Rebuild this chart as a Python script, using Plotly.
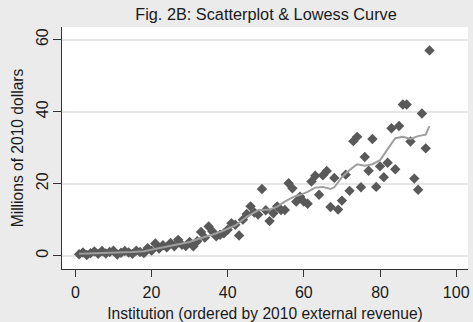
import plotly.graph_objects as go

# Scatter data: institution rank and revenue (millions of 2010 dollars)
institution = list(range(1, 94))
revenue = [
    0.4, 0.9, 0.2, 0.7, 1.2, 0.5, 1.3, 0.6, 1.0, 1.4,
    0.3, 0.8, 1.3, 0.9, 0.5, 1.4, 1.0, 0.7, 2.1, 1.4,
    3.4, 2.0, 2.9, 2.3, 3.5, 2.6, 4.4, 3.0, 2.7, 3.8,
    2.6, 4.0, 6.6, 5.0, 8.1, 6.7, 5.4, 5.8, 6.2, 7.2,
    9.0, 8.6, 5.6, 10.0, 11.6, 13.7, 12.0, 11.4, 18.5, 12.6,
    9.6, 11.8, 13.7, 12.7, 12.7, 20.1, 18.7, 15.0, 16.4, 15.0,
    14.4, 20.6, 22.2, 16.9, 22.3, 23.5, 13.5, 21.6, 12.8, 15.3,
    22.5, 18.0, 31.8, 33.0, 19.0, 27.4, 23.6, 32.4, 19.1, 24.8,
    21.8, 25.8, 35.4, 24.0, 36.0, 42.0, 42.0, 31.7, 21.4, 18.3,
    39.5, 29.8, 57.0,
]

# Lowess curve
lowess_x = [1, 5, 10, 15, 18, 21, 25, 28, 30, 33, 36, 39, 42, 45, 48, 51, 53, 55,
            57, 59, 61, 63, 65, 67, 68, 70, 72, 74, 76, 78, 80, 82, 84, 86, 88, 90,
            92, 93]
lowess_y = [0.5, 0.6, 0.8, 1.0, 1.2, 1.8, 2.6, 3.3, 3.8, 4.9, 5.8, 7.0, 8.4, 10.8,
            12.6, 12.8, 13.6, 15.0, 16.2, 16.9, 17.7, 18.9, 19.1, 18.5, 19.0, 21.8,
            23.8, 25.4, 25.0, 25.4, 26.5, 29.6, 32.6, 33.0, 32.4, 33.2, 33.6, 36.0]

x_ticks = [0, 20, 40, 60, 80, 100]
y_ticks = [0, 20, 40, 60]

FONT = "Liberation Sans, Arial, sans-serif"

fig = go.Figure()
fig.add_trace(go.Scatter(
    x=institution, y=revenue, mode="markers",
    marker=dict(symbol="diamond", size=8, color="#595959", line=dict(width=0)),
    showlegend=False,
))
fig.add_trace(go.Scatter(
    x=lowess_x, y=lowess_y, mode="lines",
    line=dict(color="#9e9e9e", width=2),
    showlegend=False,
))

fig.update_layout(
    width=473, height=322,
    margin=dict(l=62, r=5, t=27, b=53),
    paper_bgcolor="#ebebeb",
    plot_bgcolor="#ffffff",
    font=dict(family=FONT, size=16, color="#1a1a1a"),
    title=dict(text="Fig. 2B: Scatterplot & Lowess Curve", x=266 / 473, xanchor="center",
               y=1 - 14 / 322, yanchor="middle", yref="container",
               font=dict(size=16.3, color="#1a1a1a")),
    xaxis=dict(
        range=[-3.5, 103.1], tickvals=x_ticks, ticks="outside", ticklen=7,
        tickcolor="#333333", tickwidth=1, showgrid=False, zeroline=False,
        showline=True, linecolor="#333333", linewidth=1, automargin=False,
        ticklabelstandoff=2,
        title=dict(text="Institution (ordered by 2010 external revenue)", standoff=9,
                   font=dict(size=15.6)),
        tickfont=dict(size=16),
    ),
    yaxis=dict(
        range=[-3.7, 63.5], tickvals=y_ticks, ticks="outside", ticklen=8,
        tickcolor="#333333", tickwidth=1, showgrid=True, gridcolor="#e6e6e6",
        gridwidth=2, zeroline=False, showline=True, linecolor="#333333", linewidth=1,
        tickangle=-90, automargin=False, ticklabelstandoff=-1,
        title=dict(text="Millions of 2010 dollars", standoff=6, font=dict(size=15.6)),
        tickfont=dict(size=16),
    ),
)

fig.write_html("out.html", config={"displayModeBar": False},
               post_script="document.body.style.margin='0';")
